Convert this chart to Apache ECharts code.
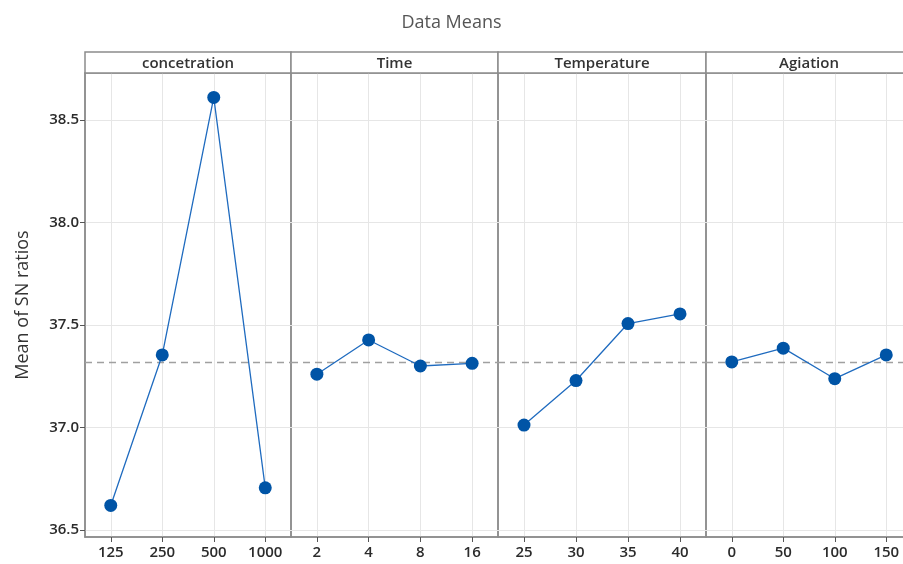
<!DOCTYPE html>
<html>
<head>
<meta charset="utf-8">
<script src="https://cdn.jsdelivr.net/npm/echarts@6/dist/echarts.min.js"></script>
<style>
  html, body { margin: 0; padding: 0; background: #fff; }
  #chart { width: 903px; height: 564px; }
</style>
</head>
<body>
<div id="chart"></div>
<script>
// Main effects plot for SN ratios: one panel per factor
const factorNames = ['concetration', 'Time', 'Temperature', 'Agiation'];

const concentrationLevels = ['125', '250', '500', '1000'];
const timeLevels = ['2', '4', '8', '16'];
const temperatureLevels = ['25', '30', '35', '40'];
const agitationLevels = ['0', '50', '100', '150'];

const concentrationMeans = [36.62, 37.354, 38.61, 36.706];
const timeMeans = [37.26, 37.427, 37.30, 37.313];
const temperatureMeans = [37.012, 37.229, 37.507, 37.554];
const agitationMeans = [37.32, 37.387, 37.238, 37.354];

const yTicks = [36.5, 37.0, 37.5, 38.0, 38.5];

const levelsList = [concentrationLevels, timeLevels, temperatureLevels, agitationLevels];
const meansList = [concentrationMeans, timeMeans, temperatureMeans, agitationMeans];

// grand mean of all responses (dashed reference line)
const allMeans = [].concat(...meansList);
const grandMean = allMeans.reduce((a, b) => a + b, 0) / allMeans.length;

const FONT = '"Open Sans", "Noto Sans", sans-serif';
const frameColor = '#8c8c8c';
const gridColor = '#e6e6e6';

const panelLeft = [85, 291, 498, 706];
const panelWidth = [206, 207, 208, 206];
const plotTop = 73, plotHeight = 464, stripTop = 52, stripHeight = 21;
const yMin = 36.466, yMax = 38.729;

const grids = [], xAxes = [], yAxes = [], series = [], graphics = [];

for (let i = 0; i < 4; i++) {
  grids.push({
    left: panelLeft[i], top: plotTop, width: panelWidth[i], height: plotHeight,
    outerBoundsMode: 'none', containLabel: false,
    show: true, borderColor: frameColor, borderWidth: 1.5, backgroundColor: 'transparent'
  });
  xAxes.push({
    type: 'category', gridIndex: i, data: levelsList[i], boundaryGap: true,
    axisLine: { show: true, lineStyle: { color: frameColor, width: 1.5 } },
    axisTick: { show: true, alignWithLabel: true, length: 5, interval: 0, lineStyle: { color: '#555' } },
    axisLabel: { interval: 0, color: '#2b2b2b', fontSize: 15, fontFamily: FONT, fontWeight: 600, margin: 8 },
    splitLine: { show: true, alignWithLabel: true, interval: 0, lineStyle: { color: gridColor, width: 1 } }
  });
  yAxes.push({
    type: 'value', gridIndex: i, min: yMin, max: yMax,
    name: i === 0 ? 'Mean of SN ratios' : '',
    nameLocation: 'middle', nameGap: 53, nameRotate: 90,
    nameTextStyle: { color: '#333', fontSize: 18, fontFamily: FONT },
    axisLine: { show: i === 0, lineStyle: { color: frameColor, width: 1.5 } },
    axisTick: { show: i === 0, length: 5, customValues: yTicks, lineStyle: { color: '#555' } },
    axisLabel: {
      show: i === 0, customValues: yTicks, color: '#2b2b2b', fontSize: 15, fontFamily: FONT, fontWeight: 600, margin: 6,
      formatter: v => Number(v).toFixed(1)
    },
    splitLine: { show: true, customValues: yTicks, lineStyle: { color: gridColor, width: 1 } }
  });
  series.push({
    type: 'line', xAxisIndex: i, yAxisIndex: i, data: meansList[i],
    symbol: 'circle', symbolSize: 13,
    itemStyle: { color: '#0054a6' },
    lineStyle: { color: '#1f6bbf', width: 1.3 },
    z: 5,
    markLine: {
      silent: true, symbol: 'none', label: { show: false },
      lineStyle: { color: '#a0a0a0', type: [7, 5], width: 1.3 },
      data: [{ yAxis: grandMean }]
    }
  });
  // factor header strip above each panel
  graphics.push({
    type: 'rect', z: 10,
    shape: { x: panelLeft[i], y: stripTop, width: panelWidth[i], height: stripHeight },
    style: { fill: '#fff', stroke: frameColor, lineWidth: 1.5 }
  });
  graphics.push({
    type: 'text', z: 11,
    x: panelLeft[i] + panelWidth[i] / 2, y: stripTop + stripHeight / 2 + 1,
    style: {
      text: factorNames[i], fill: '#333', font: '600 15px ' + FONT,
      textAlign: 'center', textVerticalAlign: 'middle'
    }
  });
}

const chart = echarts.init(document.getElementById('chart'), null, { renderer: 'canvas' });
chart.setOption({
  animation: false,
  backgroundColor: '#fff',
  title: {
    text: 'Data Means', left: 'center', top: 9,
    textStyle: { color: '#555', fontSize: 18, fontWeight: 'normal', fontFamily: FONT }
  },
  grid: grids,
  xAxis: xAxes,
  yAxis: yAxes,
  series: series,
  graphic: graphics
});
</script>
</body>
</html>
